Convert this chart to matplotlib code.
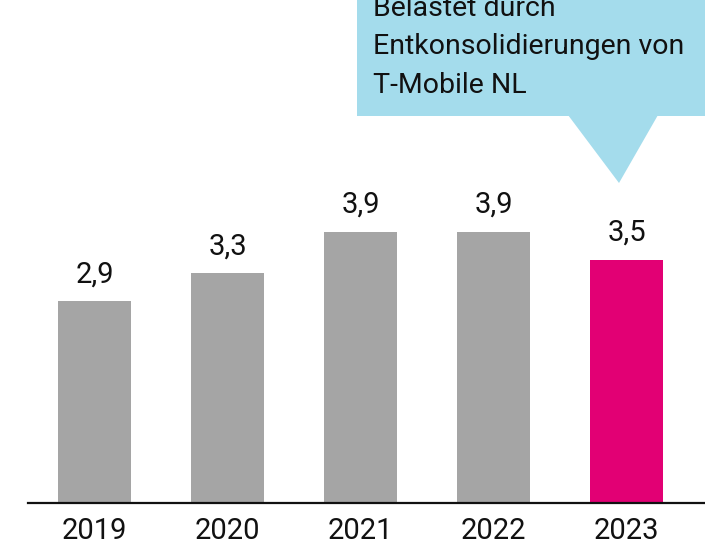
import matplotlib.pyplot as plt
from matplotlib.patches import Polygon, Rectangle

years = ["2019", "2020", "2021", "2022", "2023"]
values = [2.9, 3.3, 3.9, 3.9, 3.5]
value_labels = ["2,9", "3,3", "3,9", "3,9", "3,5"]
bar_colors = ["#a5a5a5", "#a5a5a5", "#a5a5a5", "#a5a5a5", "#e20074"]
note_lines = ["Belastet durch", "Entkonsolidierungen von", "T-Mobile NL"]

plt.rcParams["font.family"] = ["Roboto", "DejaVu Sans"]

W, H = 705, 546
fig = plt.figure(figsize=(W / 100, H / 100), dpi=100)
# axes: baseline at y=503 px, left edge at x=28 px, right to edge of figure
ax = fig.add_axes([28 / W, (H - 503) / H, 1 - 28 / W, 503 / H])

x = list(range(len(years)))
ax.bar(x, values, width=0.55, color=bar_colors, zorder=2)
ax.set_xlim(-0.5, 4.59)
ax.set_ylim(0, 7.23)

for xi, v, lab in zip(x, values, value_labels):
    ax.annotate(lab, (xi, v), xytext=(0, 13), textcoords="offset pixels",
                ha="center", va="bottom", fontsize=21, color="#111111")

ax.set_xticks(x)
ax.set_xticklabels(years, fontsize=21, color="#111111")
ax.tick_params(axis="x", length=0, pad=10)
ax.set_yticks([])
for s in ["top", "right", "left"]:
    ax.spines[s].set_visible(False)
ax.spines["bottom"].set_linewidth(1.6)
ax.spines["bottom"].set_color("#111111")

# callout box with pointer towards the 2023 bar (figure pixel coords)
def px(xp, yp):
    return (xp / W, 1 - yp / H)

blue = "#a4dcec"
box = Rectangle(px(357, 116), (W - 357) / W, 116 / H + 0.02,
                transform=fig.transFigure, facecolor=blue, edgecolor="none")
fig.patches.append(box)
tri = Polygon([px(568, 115), px(658, 115), px(619, 183)], closed=True,
              transform=fig.transFigure, facecolor=blue, edgecolor="none")
fig.patches.append(tri)

for i, line in enumerate(note_lines):
    fig.text(373 / W, 1 - (16 + 38.5 * i) / H, line, ha="left", va="baseline",
             fontsize=20.5, color="#111111")

fig.savefig("out.png", dpi=100)
